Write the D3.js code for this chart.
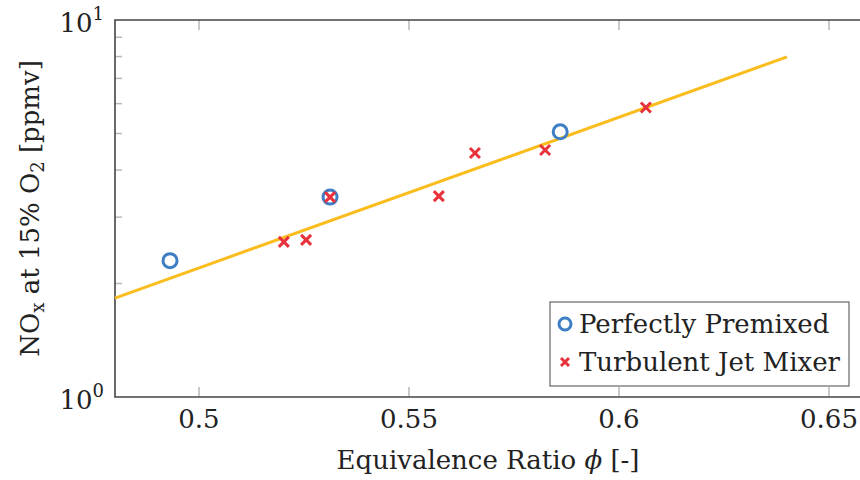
<!DOCTYPE html>
<html>
<head>
<meta charset="utf-8">
<script src="https://cdn.jsdelivr.net/npm/d3@7"></script>
<style>
  body { margin: 0; background: #fff; }
  svg { display: block; font-family: "DejaVu Serif", serif; }
</style>
</head>
<body>
<svg id="chart" width="860" height="480"></svg>
<script>
// ---- data
const premixedPhi = [0.4931, 0.5312, 0.5860];
const premixedNOx = [2.30, 3.39, 5.05];

const jetPhi = [0.5202, 0.5255, 0.5312, 0.5571, 0.5657, 0.5824, 0.6064];
const jetNOx = [2.58, 2.61, 3.39, 3.41, 4.44, 4.52, 5.86];

// exponential fit (straight on log axis), end points
const fitPhi = [0.48, 0.64];
const fitNOx = [1.83, 7.98];

const xTicks = [0.5, 0.55, 0.6, 0.65];
const yDecades = [1, 10];
const yMinor = [2, 3, 4, 5, 6, 7, 8, 9];

const legendLabels = ['Perfectly Premixed', 'Turbulent Jet Mixer'];

// ---- layout
const margin = { left: 115, top: 20, bottom: 83 };
const svg = d3.select('#chart');
const H = +svg.attr('height');
const innerH = H - margin.top - margin.bottom;

const x = d3.scaleLinear().domain([0.48, 0.66]).range([margin.left, margin.left + 756]);
const y = d3.scaleLog().domain([1, 10]).range([margin.top + innerH, margin.top]);

const blue = '#3d7ec4';
const red = '#e8313b';
const gold = '#fbbd1e';
const tickCol = '#b8b8b8';
const axisCol = '#444';
const fs = 26, fsSub = 18;

// ---- ticks (inward, light grey)
const g = svg.append('g');
g.selectAll('line.xt-b').data(xTicks).join('line')
  .attr('x1', d => x(d)).attr('x2', d => x(d))
  .attr('y1', y(1)).attr('y2', y(1) - 10)
  .attr('stroke', tickCol).attr('stroke-width', 1.5);
g.selectAll('line.xt-t').data(xTicks).join('line')
  .attr('x1', d => x(d)).attr('x2', d => x(d))
  .attr('y1', y(10)).attr('y2', y(10) + 10)
  .attr('stroke', tickCol).attr('stroke-width', 1.5);
g.selectAll('line.ym').data(yMinor).join('line')
  .attr('x1', x(0.48)).attr('x2', x(0.48) + 7)
  .attr('y1', d => y(d)).attr('y2', d => y(d))
  .attr('stroke', tickCol).attr('stroke-width', 1.5);

// ---- frame
svg.append('path')
  .attr('d', `M${x(0.66) + 5},${y(10)} H${x(0.48)} V${y(1)} H${x(0.66) + 5}`)
  .attr('fill', 'none').attr('stroke', axisCol).attr('stroke-width', 1.6);

// ---- tick labels
svg.selectAll('text.xl').data(xTicks).join('text')
  .attr('x', d => x(d)).attr('y', y(1) + 31)
  .attr('text-anchor', 'middle').attr('font-size', fs).attr('fill', '#222')
  .text(d => d3.format('')(d));

const yl = svg.selectAll('text.yl').data(yDecades).join('text')
  .attr('x', x(0.48) - 11).attr('y', d => y(d) + 12)
  .attr('text-anchor', 'end').attr('font-size', fs).attr('fill', '#222');
yl.append('tspan').text('10');
yl.append('tspan').attr('dy', -12).attr('font-size', fsSub).text(d => Math.round(Math.log10(d)));

// ---- axis titles
const xt = svg.append('text')
  .attr('x', 488).attr('y', 469).attr('text-anchor', 'middle')
  .attr('font-size', fs).attr('fill', '#222');
xt.append('tspan').text('Equivalence Ratio ');
xt.append('tspan').attr('font-style', 'italic').text('ϕ');
xt.append('tspan').text(' [-]');

const yt = svg.append('text')
  .attr('transform', `translate(39, ${(y(1) + y(10)) / 2}) rotate(-90)`)
  .attr('text-anchor', 'middle').attr('font-size', fs).attr('fill', '#222');
yt.append('tspan').text('NO');
yt.append('tspan').attr('dy', 5).attr('font-size', fsSub).text('x');
yt.append('tspan').attr('dy', -5).text(' at 15% O');
yt.append('tspan').attr('dy', 5).attr('font-size', fsSub).text('2');
yt.append('tspan').attr('dy', -5).text(' [ppmv]');

// ---- fit line
const line = d3.line().x(d => x(d[0])).y(d => y(d[1]));
svg.append('path')
  .datum(d3.zip(fitPhi, fitNOx))
  .attr('d', line)
  .attr('fill', 'none').attr('stroke', gold).attr('stroke-width', 3);

// ---- markers
function cross(sel, s) {
  sel.append('path')
    .attr('d', `M${-s},${-s}L${s},${s}M${-s},${s}L${s},${-s}`)
    .attr('stroke', red).attr('stroke-width', 3).attr('fill', 'none');
}

svg.append('g').selectAll('circle').data(d3.zip(premixedPhi, premixedNOx)).join('circle')
  .attr('cx', d => x(d[0])).attr('cy', d => y(d[1])).attr('r', 7)
  .attr('fill', 'none').attr('stroke', blue).attr('stroke-width', 3);

svg.append('g').selectAll('g').data(d3.zip(jetPhi, jetNOx)).join('g')
  .attr('transform', d => `translate(${x(d[0])},${y(d[1])})`)
  .call(cross, 5);

// ---- legend
const leg = svg.append('g').attr('transform', 'translate(550, 302)');
leg.append('rect').attr('width', 299).attr('height', 84)
  .attr('fill', '#fff').attr('stroke', '#666').attr('stroke-width', 1.2);
leg.append('circle').attr('cx', 15).attr('cy', 22).attr('r', 6)
  .attr('fill', 'none').attr('stroke', blue).attr('stroke-width', 3);
leg.append('g').attr('transform', 'translate(15, 60)').call(cross, 4);
leg.selectAll('text').data(legendLabels).join('text')
  .attr('x', 29).attr('y', (d, i) => 31 + i * 38)
  .attr('font-size', fs).attr('fill', '#222')
  .text(d => d);
</script>
</body>
</html>
